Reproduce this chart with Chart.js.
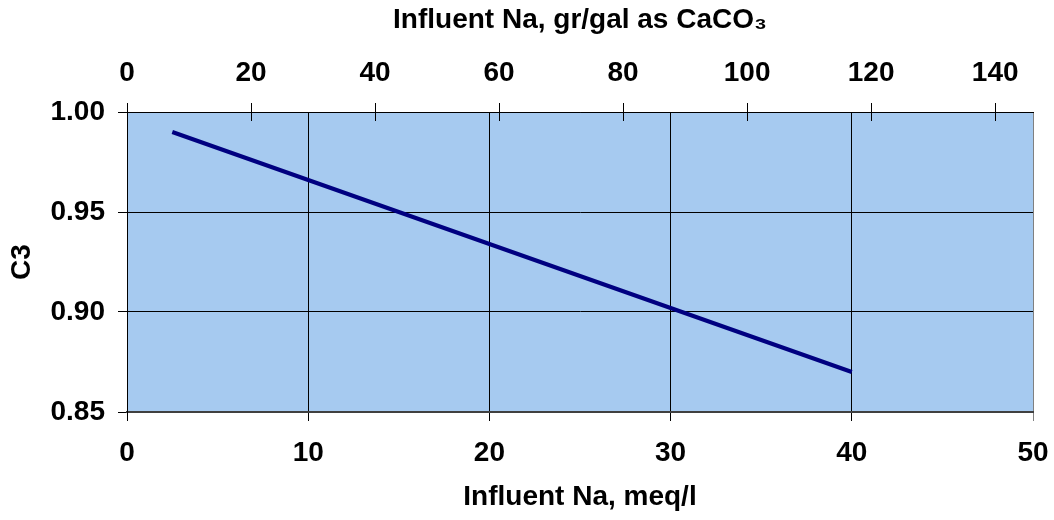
<!DOCTYPE html>
<html>
<head>
<meta charset="utf-8">
<script src="https://cdn.jsdelivr.net/npm/chart.js@4/dist/chart.umd.min.js"></script>
<style>
  html, body { margin: 0; padding: 0; background: #ffffff; }
  #wrap { width: 1054px; height: 520px; }
</style>
</head>
<body>
<div id="wrap"><canvas id="c" width="1054" height="520"></canvas></div>
<script>
// ---- data ----
const naMeq = [2.5, 5, 10, 15, 20, 25, 30, 35, 40];
const c3Values = [0.990, 0.982, 0.966, 0.950, 0.934, 0.918, 0.902, 0.886, 0.870];
const bottomTitle = 'Influent Na, meq/l';
const topTitle = 'Influent Na, gr/gal as CaCO\u2083';
const yTitle = 'C3';
const meqToGrGal = 2.922; // 1 meq/l = 50 mg/l as CaCO3 = 2.922 gr/gal

const FONT = 'Liberation Sans';

const bgPlugin = {
  id: 'areaBg',
  beforeDraw(chart) {
    const a = chart.chartArea, ctx = chart.ctx;
    ctx.save();
    ctx.fillStyle = '#a6caf0';
    ctx.fillRect(a.left, a.top, a.right - a.left, a.bottom - a.top);
    ctx.restore();
  }
};

const innerTicks = {
  id: 'innerTicks',
  afterDraw(chart) {
    const s = chart.scales.x2, a = chart.chartArea, ctx = chart.ctx;
    ctx.save();
    ctx.strokeStyle = '#000';
    ctx.lineWidth = 1;
    s.ticks.forEach(t => {
      const px = Math.round(s.getPixelForValue(t.value)) + 0.5;
      ctx.beginPath();
      ctx.moveTo(px, a.top);
      ctx.lineTo(px, a.top + 9);
      ctx.stroke();
    });
    ctx.restore();
  }
};

new Chart(document.getElementById('c'), {
  type: 'scatter',
  data: {
    datasets: [{
      data: naMeq.map((x, i) => ({ x: x, y: c3Values[i] })),
      showLine: true,
      borderColor: '#000080',
      backgroundColor: '#000080',
      borderWidth: 4,
      pointRadius: 0,
      tension: 0
    }]
  },
  options: {
    responsive: false,
    animation: false,
    layout: { padding: { left: 0, right: 21, top: 0, bottom: 0 } },
    plugins: { legend: { display: false }, tooltip: { enabled: false } },
    scales: {
      x: {
        type: 'linear', position: 'bottom', min: 0, max: 50,
        ticks: { stepSize: 10, color: '#000', padding: 15, font: { family: FONT, size: 28, weight: 'bold' } },
        grid: { color: ctx => (ctx.tick && ctx.tick.value === 50 ? '#808080' : '#000'), lineWidth: 1, tickLength: 9,
                tickColor: ctx => (ctx.tick && ctx.tick.value === 50 ? '#808080' : '#000') },
        border: { color: '#404040', width: 2 },
        title: { display: true, text: bottomTitle, color: '#000', padding: { top: 0, bottom: 6 },
                 font: { family: FONT, size: 28, weight: 'bold' } },
        afterFit: s => { s.height = 108; s.paddingLeft = 0; s.paddingRight = 0; }
      },
      x2: {
        type: 'linear', position: 'top', min: 0, max: 50 * meqToGrGal,
        ticks: { stepSize: 20, includeBounds: false, color: '#000', padding: 13, font: { family: FONT, size: 28, weight: 'bold' } },
        grid: { drawOnChartArea: false, tickLength: 9, tickColor: '#000', color: '#000' },
        border: { color: '#000', width: 1 },
        title: { display: true, text: topTitle, color: '#000', padding: { top: 3, bottom: 0 },
                 font: { family: FONT, size: 28, weight: 'bold' } },
        afterFit: s => { s.height = 112; s.paddingLeft = 0; s.paddingRight = 0; }
      },
      y: {
        type: 'linear', position: 'left', min: 0.85, max: 1.0,
        ticks: { stepSize: 0.05, color: '#000', padding: 13, font: { family: FONT, size: 28, weight: 'bold' },
                 callback: v => Number(v).toFixed(2) },
        grid: { color: '#000', lineWidth: 1, tickLength: 9, tickColor: '#000' },
        border: { color: '#000', width: 1 },
        title: { display: true, text: yTitle, color: '#000', padding: { top: 5, bottom: 0 },
                 font: { family: FONT, size: 28, weight: 'bold' } },
        afterFit: s => { s.width = 127; s.paddingTop = 0; s.paddingBottom = 0; }
      }
    }
  },
  plugins: [bgPlugin, innerTicks]
});
</script>
</body>
</html>
